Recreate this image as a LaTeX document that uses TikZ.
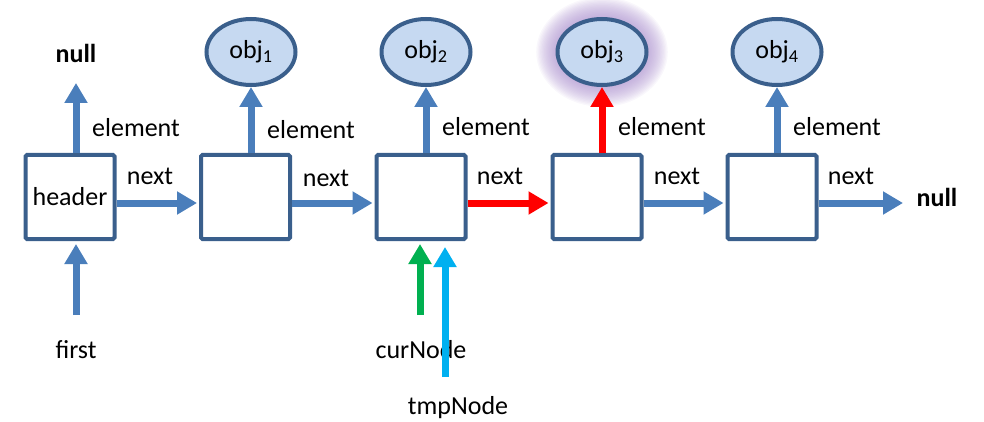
\documentclass[tikz,border=0pt]{standalone}
\usepackage{fontspec}
\setmainfont{Carlito}
\usetikzlibrary{arrows.meta,shapes.geometric}

\definecolor{boxline}{HTML}{3A5F8C}
\definecolor{arrowblue}{HTML}{4A7EBB}
\definecolor{objfill}{HTML}{C6D9F1}
\definecolor{curgreen}{HTML}{00B050}
\definecolor{tmpcyan}{HTML}{00B0F0}
\definecolor{glowpurple}{HTML}{A88CCC}

\tikzset{
  txt/.style={font=\fontsize{26}{31}\selectfont, inner sep=0pt},
  listbox/.style={draw=boxline, line width=4pt, fill=white, rounded corners=1.5pt,
    minimum width=89pt, minimum height=84pt, inner sep=0pt, txt},
  objnode/.style={ellipse, draw=boxline, line width=4pt, fill=objfill,
    minimum width=89pt, minimum height=66pt, inner sep=0pt, txt},
  ptr/.style={line width=7pt, -{Triangle[width=22pt,length=20pt]}},
  blueptr/.style={ptr, arrowblue},
}

\begin{document}
\begin{tikzpicture}[x=1pt,y=-1pt]
\path[use as bounding box] (0,0) rectangle (984,422);

% soft halo behind obj3
\coordinate (c3) at (602,52);
\foreach \i in {1,...,16}
  \fill[glowpurple, opacity=0.065] (c3) ellipse ({45+1.3*\i} and {34+1.3*\i});

% list cells
\node[listbox] (n0) at (70,197)    {header};
\node[listbox] (n1) at (245.5,197) {};
\node[listbox] (n2) at (421,197)   {};
\node[listbox] (n3) at (597,197)   {};
\node[listbox] (n4) at (772,197)   {};

% referenced objects
\node[objnode] (o1) at (251,52) {obj\textsubscript{1}};
\node[objnode] (o2) at (426,52) {obj\textsubscript{2}};
\node[objnode] (o3) at (c3)     {obj\textsubscript{3}};
\node[objnode] (o4) at (777,52) {obj\textsubscript{4}};

% null markers
\node[txt, font=\fontsize{26}{31}\selectfont\bfseries] (nulltop) at (76,53) {null};
\node[txt, font=\fontsize{26}{31}\selectfont\bfseries] (nullend) at (937,197) {null};
\coordinate (nulltip) at (76,83);
\coordinate (endtip) at (903,203);

% element pointers
\draw[blueptr] (n0.north -| nulltop) -- (nulltip);
\draw[blueptr] (n1.north -| o1) -- (o1.south);
\draw[blueptr] (n2.north -| o2) -- (o2.south);
\draw[ptr, red] (n3.north -| o3) -- (o3.south);
\draw[blueptr] (n4.north -| o4) -- (o4.south);

% next pointers
\draw[blueptr, shorten >=2pt] ([yshift=-6pt]n0.east) -- ([yshift=-6pt]n1.west);
\draw[blueptr, shorten >=2pt] ([yshift=-6pt]n1.east) -- ([yshift=-6pt]n2.west);
\draw[ptr, red, shorten >=2pt] ([yshift=-6pt]n2.east) -- ([yshift=-6pt]n3.west);
\draw[blueptr, shorten >=2pt] ([yshift=-6pt]n3.east) -- ([yshift=-6pt]n4.west);
\draw[blueptr] ([yshift=-6pt]n4.east) -- (endtip);

% pointer labels
\node[txt] (e0) at (136,128) {element};
\node[txt] (e1) at (311,130) {element};
\node[txt] (e2) at (486,127) {element};
\node[txt] (e3) at (662,127) {element};
\node[txt] (e4) at (837,127) {element};
\node[txt] (x0) at (150,176) {next};
\node[txt] (x1) at (326,178) {next};
\node[txt] (x2) at (500,176) {next};
\node[txt] (x3) at (677,176) {next};
\node[txt] (x4) at (851,176) {next};

% external references
\node[txt] (first) at (76,350) {first};
\node[txt] (cur) at (421,350) {curNode};
\node[txt] (tmp) at (458,408) {tmpNode};
\coordinate (firstfoot) at (76,315);
\coordinate (curfoot) at (420,315);
\coordinate (tmpfoot) at (445,377);

\draw[blueptr, shorten >=3pt] (firstfoot) -- (n0.south -| firstfoot);
\draw[ptr, curgreen, shorten >=3pt] (curfoot) -- (n2.south -| curfoot);
\draw[ptr, tmpcyan, shorten >=6pt] (tmpfoot) -- (n2.south -| tmpfoot);
\end{tikzpicture}
\end{document}
